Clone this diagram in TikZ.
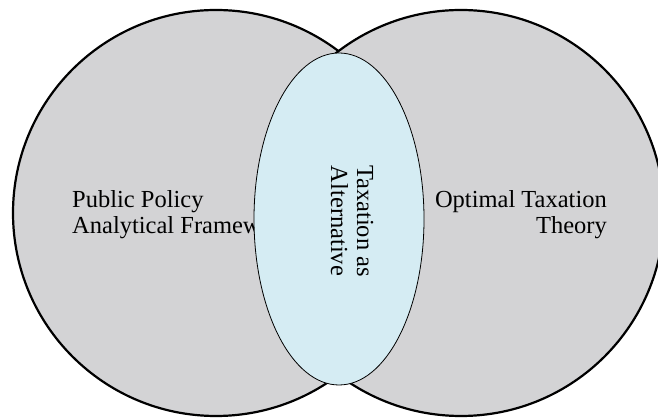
\documentclass[tikz,border=0pt]{standalone}
\usepackage{fontspec}
\setmainfont{Liberation Serif}
\usetikzlibrary{shapes.geometric}

\definecolor{setgray}{RGB}{211,211,213}
\definecolor{overlapblue}{RGB}{213,236,243}

\tikzset{
  setcircle/.style={circle, draw=black, line width=2.2pt, fill=setgray, minimum size=406pt, inner sep=0pt},
  overlap/.style={ellipse, draw=black, line width=0.8pt, fill=overlapblue, minimum width=170pt, minimum height=332pt, inner sep=0pt},
  label/.style={font=\fontsize{24.5}{26}\selectfont, inner sep=0pt}
}

\begin{document}
\begin{tikzpicture}[x=1pt,y=1pt]
  \useasboundingbox (0,0) rectangle (658,419);

  % the two sets
  \node[setcircle] (left) at (216,206) {};
  \node[setcircle] (right) at (461,206) {};

  % set labels (base anchor sits on the last line)
  \node[label, anchor=base west, align=left] (policy) at (72,185)
    {Public Policy\\Analytical Framew};
  \node[label, anchor=base east, align=right] (optimal) at (607,185)
    {Optimal Taxation\\Theory};

  % the overlap, drawn over the labels
  \node[overlap] (middle) at (339,200) {};
  \node[label, rotate=-90, align=center] (alt) at (352,198)
    {Taxation as\\Alternative};
\end{tikzpicture}
\end{document}
